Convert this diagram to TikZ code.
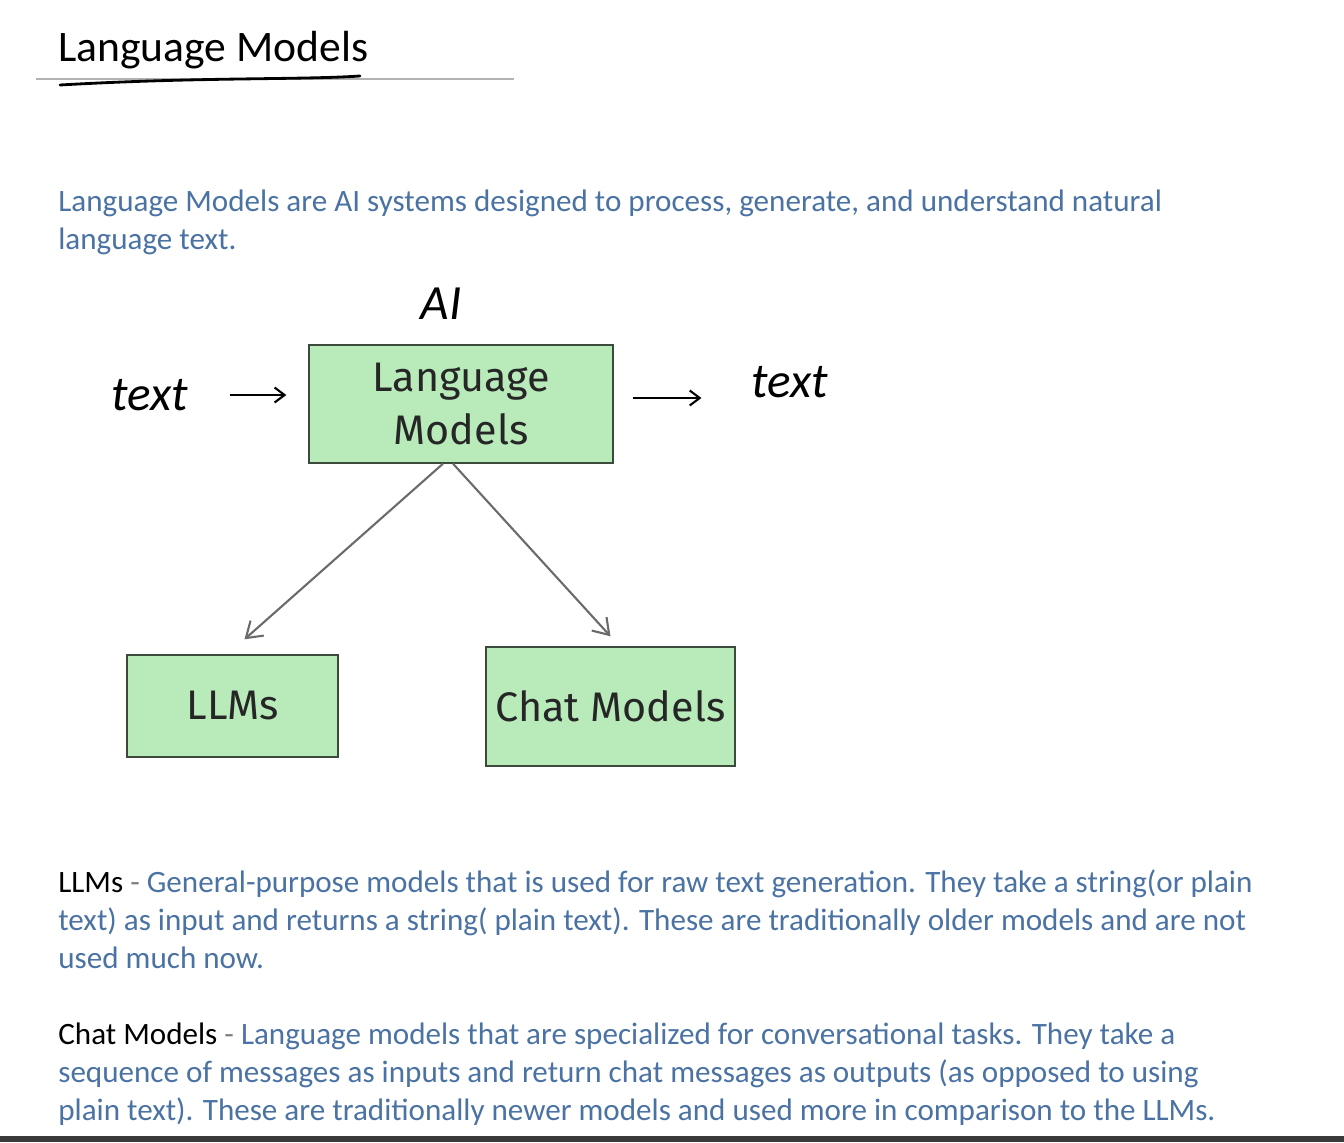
\documentclass[tikz,border=0pt]{standalone}
\usepackage{fontspec}
\setmainfont{Carlito}
\newfontfamily\boxfont{Fira Sans}
\usetikzlibrary{arrows.meta,positioning,calc}
\usepackage{xcolor}
\definecolor{bodyblue}{HTML}{4A72A3}
\definecolor{boxgreen}{HTML}{B9EBBA}
\definecolor{boxline}{HTML}{3C4A3C}
\definecolor{arrowgray}{HTML}{6B6B6B}
\definecolor{barline}{HTML}{3A3A3A}
\tikzset{
  mbox/.style={draw=boxline, fill=boxgreen, line width=0.8pt, align=center, inner sep=0pt, text=black!85, font=\boxfont\fontsize{23.5}{30}\selectfont},
  body/.style={anchor=base west, align=left, inner sep=0pt, text=bodyblue, font=\fontsize{17.7}{21.5}\selectfont},
  hand/.style={inner sep=0pt, font=\itshape\fontsize{28}{28}\selectfont},
  arrow/.style={-{Straight Barb[length=3mm, width=4mm]}, draw=arrowgray, line width=1.2pt},
  handarrow/.style={-{Straight Barb[length=2mm, width=3mm]}, line width=1.2pt}
}

\begin{document}
\begin{tikzpicture}[x=0.02cm, y=-0.02cm]
  \useasboundingbox (0,0) rectangle (1344,1142);
  \fill[barline] (0,1136) rectangle (1344,1142);
  % title
  \node[anchor=base west, inner sep=0pt, font=\fontsize{24.8}{24.8}\selectfont] (title) at (58,62) {Language Models};
  \draw[gray!60, line width=0.6pt] (36,79) -- (514,79);
  \draw[line width=1.6pt, line cap=round] (60,85) .. controls (200,77) and (300,80) .. (360,76);
  \node[body] (intro) at (58,249) {Language Models are AI systems designed to process, generate, and understand natural\\language text.};
  % boxes
  \node[mbox, minimum width=6.08cm, minimum height=2.36cm] (lm) at (461,404) {Language\\Models};
  \node[mbox, minimum width=4.22cm, minimum height=2.04cm] (llm) at (232.5,706) {LLMs};
  \node[mbox, minimum width=4.98cm, minimum height=2.38cm] (chat) at (610.5,706.5) {Chat Models};
  \draw[arrow] ($(lm.south)+(-18,0)$) -- ($(llm.north)+(12,-15)$);
  \draw[arrow] ($(lm.south)+(-8,0)$) -- ($(chat.north)+(0,-10)$);
  % handwritten notes
  \node[hand] (intext) at (150,395) {text};
  \node[hand] (outtext) at (790,382) {text};
  \node[hand] (ailabel) at (441,304) {AI};
  \draw[handarrow] ($(intext.east)+(41,0)$) -- ($(lm.west)+(-22,-9)$);
  \draw[handarrow] ($(lm.east)+(19,-6)$) -- ($(outtext.west)+(-50,16)$);
  % notes
  \node[body] (llmnote) at (58,968) {\textcolor{black}{LLMs} \textcolor{gray}{-} General-purpose models that is used for raw text generation. They take a string(or plain\\text) as input and returns a string( plain text). These are traditionally older models and are not\\used much now.};
  \node[body] (chatnote) at (58,1120) {\textcolor{black}{Chat Models} \textcolor{gray}{-} Language models that are specialized for conversational tasks. They take a\\sequence of messages as inputs and return chat messages as outputs (as opposed to using\\plain text). These are traditionally newer models and used more in comparison to the LLMs.};
\end{tikzpicture}
\end{document}
